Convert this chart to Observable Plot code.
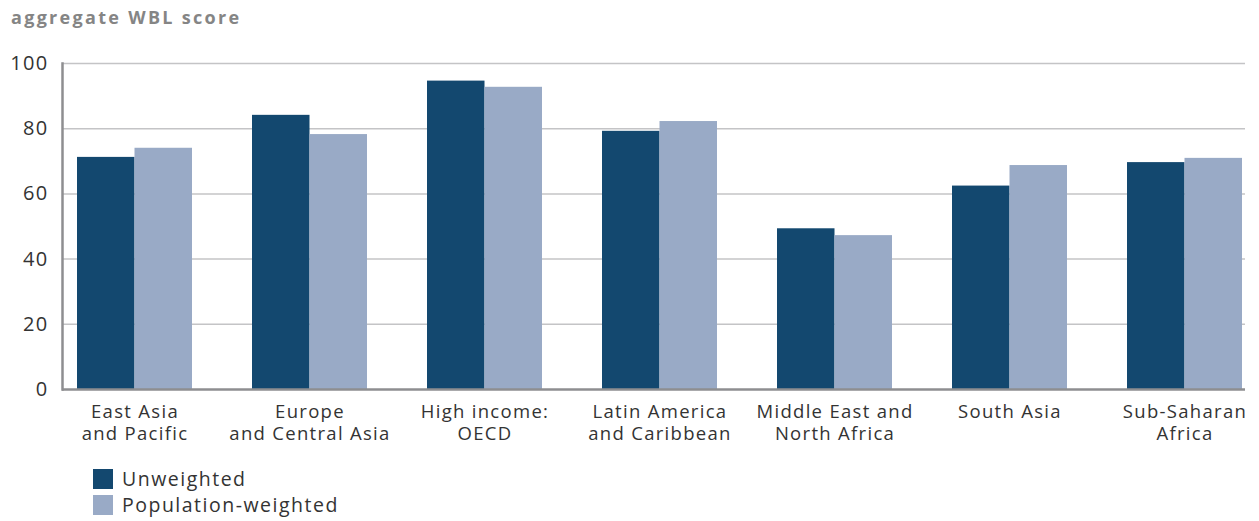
<!DOCTYPE html>
<html>
<head>
<meta charset="utf-8">
<script src="https://cdn.jsdelivr.net/npm/d3@7"></script>
<script src="https://cdn.jsdelivr.net/npm/@observablehq/plot@0.6"></script>
<style>
  html, body { margin: 0; padding: 0; background: #fff; }
  #wrap { position: relative; width: 1259px; height: 521px; font-family: "Open Sans", Lato, sans-serif; }
  #title { position: absolute; left: 11px; top: 5px; font-size: 18px; font-weight: bold; color: #858585; letter-spacing: 2.3px; }
  #chart { position: absolute; left: 0; top: 0; }
  .leg { position: absolute; left: 93px; font-size: 19.5px; color: #333; display: flex; align-items: center; letter-spacing: 1.5px; }
  .sw { width: 20px; height: 20px; margin-right: 9px; }
</style>
</head>
<body>
<div id="wrap">
  <div id="chart"></div>
  <div id="title">aggregate WBL score</div>
  <div class="leg" style="top:465px"><div class="sw" style="background:#13486f"></div>Unweighted</div>
  <div class="leg" style="top:491px"><div class="sw" style="background:#99aac6"></div>Population-weighted</div>
</div>
<script>
const regions = ["East Asia\nand Pacific", "Europe\nand Central Asia", "High income:\nOECD", "Latin America\nand Caribbean", "Middle East and\nNorth Africa", "South Asia", "Sub-Saharan\nAfrica"];
const unweighted = [71.2, 84.1, 94.6, 79.2, 49.3, 62.4, 69.6];
const populationWeighted = [74.0, 78.2, 92.7, 82.2, 47.2, 68.7, 70.9];
const yTicks = [0, 20, 40, 60, 80, 100];
const colors = {dark: "#13486f", light: "#99aac6"};

const rowsU = regions.map((r, i) => ({region: r, value: unweighted[i]}));
const rowsW = regions.map((r, i) => ({region: r, value: populationWeighted[i]}));

const chart = Plot.plot({
  width: 1259,
  height: 455,
  marginLeft: 62,
  marginRight: 14,
  marginTop: 63,
  marginBottom: 66,
  style: {fontFamily: "'Open Sans', Lato, sans-serif", background: "#fff", letterSpacing: "1.3px"},
  x: {domain: regions, range: [76, 1242], paddingInner: 0.343, paddingOuter: 0, label: null},
  y: {domain: [0, 100], label: null},
  marks: [
    Plot.gridY(yTicks.filter(d => d > 0), {stroke: "#c4c4c6", strokeOpacity: 1, strokeWidth: 1.5}),
    Plot.barY(rowsU, {x: "region", y: "value", fill: colors.dark, insetRight: 57.5}),
    Plot.barY(rowsW, {x: "region", y: "value", fill: colors.light, insetLeft: 57.5}),
    Plot.ruleY([0], {stroke: "#8e8e90", strokeWidth: 2.5}),
    Plot.frame({anchor: "left", stroke: "#8e8e90", strokeWidth: 2.5}),
    Plot.axisY(yTicks, {tickSize: 0, tickPadding: 14, fontSize: 20, fill: "#333", label: null}),
    Plot.axisX({tickSize: 0, tickPadding: 12, fontSize: 18.5, fill: "#333", lineHeight: 1.22, label: null})
  ]
});
document.getElementById("chart").appendChild(chart);
</script>
</body>
</html>
